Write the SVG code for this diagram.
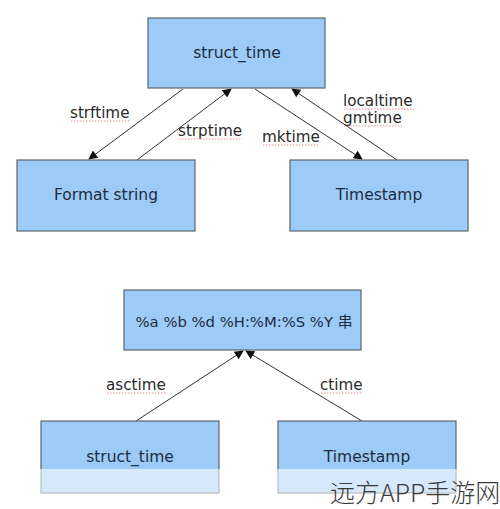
<svg xmlns="http://www.w3.org/2000/svg" width="500" height="509" viewBox="0 0 500 509">
<style>
.box{fill:#9dcbf7;stroke:#5a6670;stroke-width:1.2}
.bt{font-family:"DejaVu Sans","Noto Sans CJK SC",sans-serif;font-size:15.5px;fill:#1d2c40;text-anchor:middle;dominant-baseline:central}
.lb{font-family:"DejaVu Sans",sans-serif;font-size:15.2px;fill:#2a2a2a}
.cn{fill:none;stroke:#333;stroke-width:1}
.sq{fill:none;stroke:#e07070;stroke-width:0.8;stroke-dasharray:1.5 1.5}
</style>
<defs>
<marker id="ah" viewBox="0 0 10 10" refX="9" refY="5" markerWidth="11" markerHeight="9" markerUnits="userSpaceOnUse" orient="auto">
<path d="M0,0 L10,5 L0,10 z" fill="#111"/>
</marker>
</defs>
<rect width="500" height="509" fill="#fff"/>
<g id="connectors">
<line class="cn" x1="183" y1="89" x2="89" y2="159" marker-end="url(#ah)"/>
<line class="cn" x1="137" y1="160" x2="231" y2="89" marker-end="url(#ah)"/>
<line class="cn" x1="255" y1="89" x2="362" y2="159" marker-end="url(#ah)"/>
<line class="cn" x1="397" y1="160" x2="292" y2="89" marker-end="url(#ah)"/>
<line class="cn" x1="136" y1="421" x2="243" y2="351" marker-end="url(#ah)"/>
<line class="cn" x1="362" y1="421" x2="246" y2="351" marker-end="url(#ah)"/>
<text class="lb" x="70" y="118">strftime</text>
<text class="lb" x="178" y="136">strptime</text>
<text class="lb" x="262" y="142">mktime</text>
<text class="lb" x="343" y="106">localtime</text>
<text class="lb" x="343" y="123">gmtime</text>
<text class="lb" x="106" y="390">asctime</text>
<text class="lb" x="320" y="390">ctime</text>
<path class="sq" d="M71,121 H130 M179,139 H242 M263,145 H318 M344,109 H414 M344,126 H402 M107,393 H166 M321,393 H362 M324,465 H410 M324,203 H422"/>
</g>
<g id="n1"><rect class="box" x="148" y="18" width="177" height="70"/><text class="bt" x="237" y="53">struct_time</text></g>
<g id="n2"><rect class="box" x="17" y="160" width="178" height="71"/><text class="bt" x="106" y="195">Format string</text></g>
<g id="n3"><rect class="box" x="290" y="160" width="178" height="71"/><text class="bt" x="379" y="195">Timestamp</text></g>
<g id="n4"><rect class="box" x="124" y="290" width="237" height="60"/><text class="bt" x="244" y="321" style="font-size:14.8px">%a %b %d %H:%M:%S %Y 串</text></g>
<g id="n5"><rect class="box" x="41" y="421" width="178" height="72"/><text class="bt" x="130" y="457">struct_time</text></g>
<g id="n6"><rect class="box" x="278" y="421" width="178" height="72"/><text class="bt" x="367" y="457">Timestamp</text></g>
<rect x="0" y="469" width="500" height="40" fill="#fff" fill-opacity="0.58"/>
<text x="330" y="502" font-family="'Noto Sans CJK SC',sans-serif" font-size="25" font-weight="300" fill="#3a3a3a">远方APP手游网</text>
</svg>
